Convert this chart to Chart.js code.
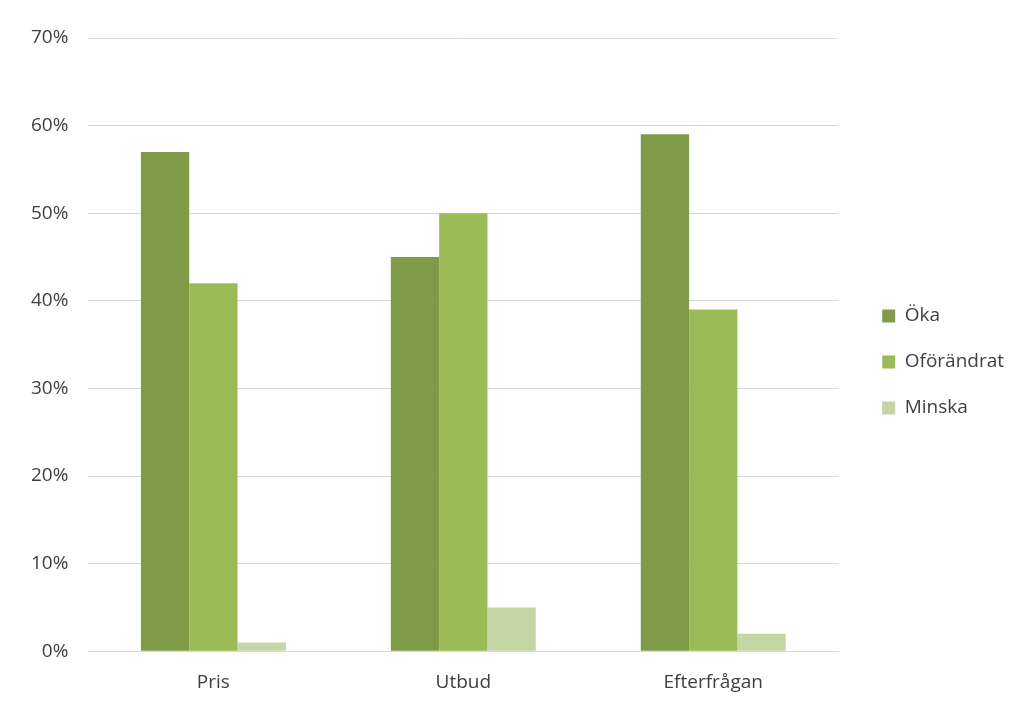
<!DOCTYPE html>
<html>
<head>
<meta charset="utf-8">
<script src="https://cdn.jsdelivr.net/npm/chart.js@4"></script>
<style>
  html, body { margin: 0; padding: 0; background: #fff; }
  #wrap { width: 1024px; height: 706px; }
</style>
</head>
<body>
<div id="wrap"><canvas id="chart"></canvas></div>
<script>
  const CATEGORIES = ["Pris", "Utbud", "Efterfrågan"];
  const OKA = [57, 45, 59];
  const OFORANDRAT = [42, 50, 39];
  const MINSKA = [1, 5, 2];
  const SERIES_NAMES = ["Öka", "Oförändrat", "Minska"];
  const Y_TICKS = [0, 10, 20, 30, 40, 50, 60, 70];

  const COLORS = ["#7f9b48", "#9bbb59", "#c4d6a6"];
  const TEXT_COLOR = "#404040";
  const GRID_COLOR = "#d9d9d9";
  const FONT = "'Open Sans', 'Noto Sans', sans-serif";

  const datasets = [OKA, OFORANDRAT, MINSKA].map(function (data, i) {
    return {
      label: SERIES_NAMES[i],
      data: data,
      backgroundColor: COLORS[i],
      borderWidth: 0,
      barPercentage: 1,
      categoryPercentage: 0.58,
    };
  });

  // the legend sits a little above the vertical centre of the canvas
  const legendNudge = {
    id: "legendNudge",
    afterLayout: function (chart) {
      if (!chart.legend) return;
      chart.legend.top -= 10;
      chart.legend.bottom -= 10;
    },
  };

  new Chart(document.getElementById("chart"), {
    type: "bar",
    data: { labels: CATEGORIES, datasets: datasets },
    plugins: [legendNudge],
    options: {
      responsive: true,
      maintainAspectRatio: false,
      animation: false,
      layout: { padding: { top: 38, right: 10, left: 11, bottom: 0 } },
      plugins: {
        tooltip: { enabled: false },
        legend: {
          position: "right",
          labels: {
            color: TEXT_COLOR,
            font: { family: FONT, size: 19 },
            boxWidth: 13,
            boxHeight: 13,
            padding: 27,
          },
        },
      },
      scales: {
        x: {
          grid: { display: false },
          border: { color: GRID_COLOR },
          ticks: { color: TEXT_COLOR, font: { family: FONT, size: 19 }, padding: 12 },
        },
        y: {
          min: Y_TICKS[0],
          max: Y_TICKS[Y_TICKS.length - 1],
          afterBuildTicks: function (scale) {
            scale.ticks = Y_TICKS.map(function (v) { return { value: v }; });
          },
          grid: { color: GRID_COLOR, drawTicks: false },
          border: { display: false },
          ticks: {
            color: TEXT_COLOR,
            font: { family: FONT, size: 19 },
            padding: 20,
            callback: function (v) { return v + "%"; },
          },
        },
        gap: {
          type: "linear",
          position: "right",
          grid: { display: false },
          border: { display: false },
          ticks: { display: false },
          afterFit: function (scale) { scale.width = 17; },
        },
      },
    },
  });
</script>
</body>
</html>
